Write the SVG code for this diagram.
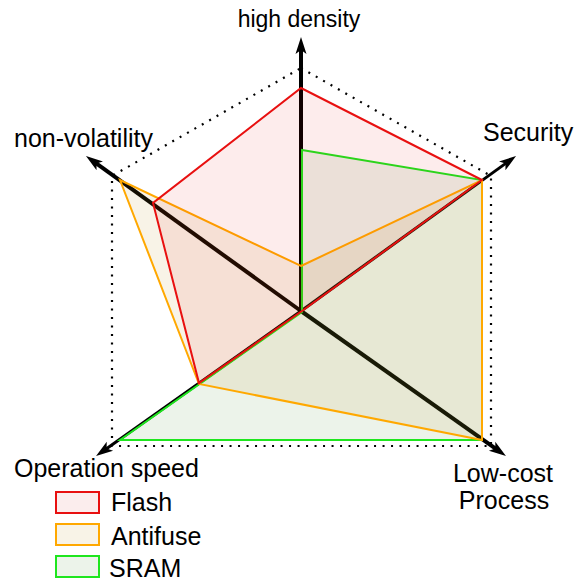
<svg xmlns="http://www.w3.org/2000/svg" width="575" height="581" viewBox="0 0 575 581">
  <style>
    text { font-family: "Liberation Sans", Arial, sans-serif; font-size: 25px; fill: #000; }
    .axis { stroke: #000; fill: none; marker-end: url(#arrow); }
    .grid { fill: none; stroke: #000; stroke-width: 2.2; stroke-dasharray: 2 6.5; }
    .flash { fill: #e00000; fill-opacity: 0.075; stroke: #e81010; stroke-width: 2; stroke-linejoin: miter; }
    .anti { fill: #b9870f; fill-opacity: 0.1; stroke: #ffa800; stroke-width: 2; }
    .sram { fill: #41872d; fill-opacity: 0.1; stroke: #1ee61e; stroke-width: 2; }
    .flashbox { fill: #fbeded; stroke: #e81010; stroke-width: 2; }
    .antibox { fill: #f8f3e7; stroke: #ffa800; stroke-width: 2; }
    .srambox { fill: #ecf3ea; stroke: #1ee61e; stroke-width: 2; }
  </style>
  <defs>
    <marker id="arrow" markerUnits="userSpaceOnUse" markerWidth="20" markerHeight="14" viewBox="0 -7 20 14" refX="6" refY="0" orient="auto">
      <path d="M0,-5.5 L17,0 L0,5.5 L4,0 z" fill="#000"/>
    </marker>
  </defs>

  <g id="grid">
    <polygon class="grid" points="301,68 491,176 491,446 112,446 112,176"/>
  </g>

  <g id="connectors">
    <line class="axis" x1="301" y1="311" x2="301" y2="48" stroke-width="4"/>
    <line class="axis" x1="301" y1="311" x2="507.1" y2="162.4" stroke-width="3"/>
    <line class="axis" x1="301" y1="311" x2="94.9" y2="162.4" stroke-width="4"/>
    <line class="axis" x1="301" y1="311" x2="105" y2="449.7" stroke-width="3"/>
    <line class="axis" x1="301" y1="311" x2="497" y2="449.7" stroke-width="4"/>
  </g>

  <g id="sram">
    <polygon class="sram" points="302,150 482,180 482,440 120,440 302,312"/>
  </g>
  <g id="antifuse">
    <polygon class="anti" points="301,266 482,180 482,440 199,384 120,180"/>
  </g>
  <g id="flash">
    <polygon class="flash" points="301,88 482,180 302,311 199,383 153,203"/>
  </g>

  <g id="labels">
    <text x="299" y="27" text-anchor="middle" style="font-size:23px">high density</text>
    <text x="483" y="141">Security</text>
    <text x="14" y="147">non-volatility</text>
    <text x="14" y="477">Operation speed</text>
    <text x="503" y="482" text-anchor="middle">Low-cost</text>
    <text x="504" y="509" text-anchor="middle">Process</text>
  </g>

  <g id="legend">
    <g id="legend-flash">
      <rect class="flashbox" x="56" y="492" width="43" height="21"/>
      <text x="111" y="511">Flash</text>
    </g>
    <g id="legend-antifuse">
      <rect class="antibox" x="56" y="524" width="43" height="21"/>
      <text x="111" y="545">Antifuse</text>
    </g>
    <g id="legend-sram">
      <rect class="srambox" x="56" y="556" width="43" height="21"/>
      <text x="109" y="577">SRAM</text>
    </g>
  </g>
</svg>
